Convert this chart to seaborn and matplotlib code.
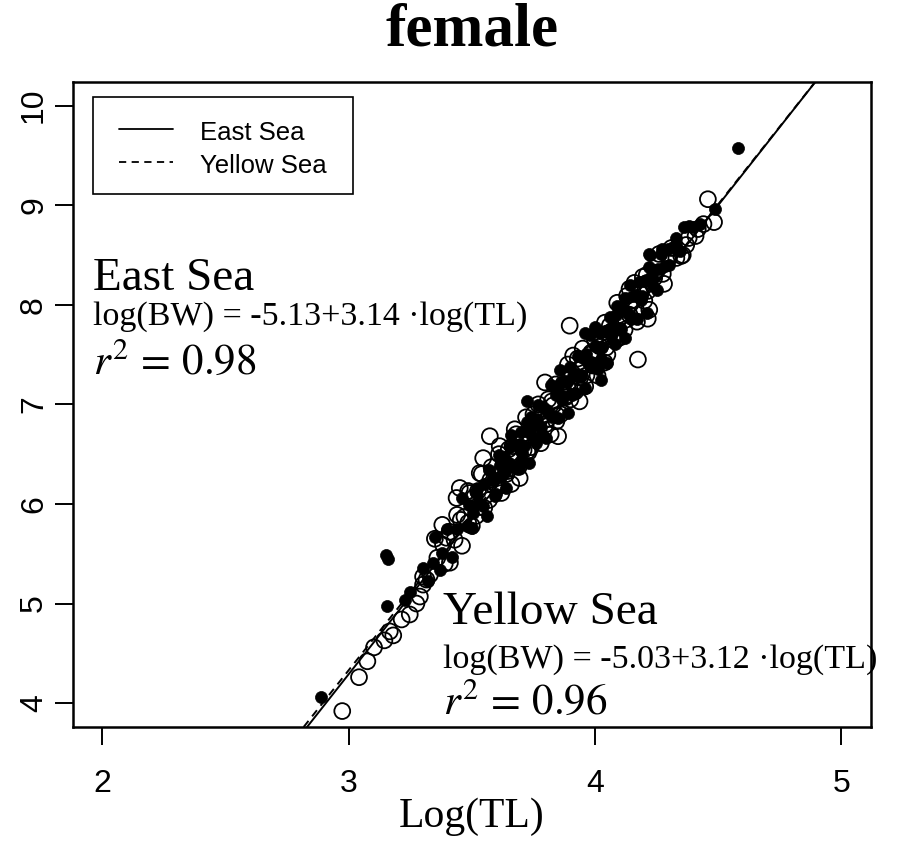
import matplotlib
matplotlib.use("Agg")
import matplotlib.pyplot as plt
from matplotlib.patches import Rectangle
import seaborn as sns
import pandas as pd

# ---------------- data ----------------
east_x = [2.886, 3.150, 3.160, 3.154, 3.228, 3.248, 3.343, 3.370, 4.579, 4.485, 4.363, 4.381,
          4.329, 4.296, 4.269, 4.224, 3.958, 4.025, 3.722, 3.857, 3.701, 4.120, 4.221, 3.998,
          3.30, 3.32, 3.35, 3.38, 3.40, 3.42, 3.44, 3.46, 3.48, 3.49, 3.50, 3.52, 3.53, 3.55,
          3.56, 3.57, 3.58, 3.60, 3.61, 3.62, 3.63, 3.64, 3.65, 3.66, 3.67, 3.68, 3.69, 3.70,
          3.71, 3.72, 3.73, 3.74, 3.75, 3.76, 3.77, 3.78, 3.79, 3.80, 3.81, 3.82, 3.83, 3.84,
          3.85, 3.86, 3.87, 3.88, 3.89, 3.90, 3.91, 3.92, 3.93, 3.94, 3.95, 3.96, 3.97, 3.98,
          3.99, 4.00, 4.01, 4.02, 4.03, 4.04, 4.05, 4.06, 4.07, 4.08, 4.09, 4.10, 4.11, 4.12,
          4.13, 4.14, 4.15, 4.16, 4.17, 4.18, 4.19, 4.20, 4.21, 4.22, 4.23, 4.25, 4.27, 4.30,
          4.33,
          3.505, 3.515, 3.545, 3.585, 3.595, 3.615, 3.635, 3.655, 3.675, 3.695, 3.705, 3.725,
          3.745, 3.765, 3.785, 3.805, 3.825, 3.845, 3.865, 3.885, 3.905, 3.925, 3.945, 3.965,
          3.985, 4.005, 4.025, 4.045, 4.065, 4.085, 4.105, 4.125, 4.145, 4.165, 4.185, 4.205,
          4.235, 4.255, 4.285, 4.315, 4.345, 4.395, 4.425]
east_y = [4.06, 5.49, 5.45, 4.98, 5.04, 5.12, 5.41, 5.34, 9.57, 8.96, 8.78, 8.79,
          8.60, 8.56, 8.51, 8.50, 7.72, 7.24, 7.03, 7.34, 6.41, 8.07, 8.51, 7.78,
          5.36, 5.23, 5.67, 5.51, 5.75, 5.47, 5.75, 6.06, 5.78, 5.99, 5.76, 6.15, 6.01, 6.20,
          5.88, 6.34, 6.24, 6.10, 6.49, 6.27, 6.47, 6.16, 6.41, 6.69, 6.37, 6.59, 6.36, 6.72,
          6.58, 6.73, 6.41, 6.87, 6.78, 6.61, 6.99, 6.77, 6.97, 6.66, 6.91, 7.19, 6.88, 7.09,
          6.86, 7.22, 7.08, 7.23, 6.91, 7.38, 7.28, 7.11, 7.49, 7.27, 7.47, 7.16, 7.42, 7.70,
          7.38, 7.59, 7.36, 7.72, 7.58, 7.74, 7.42, 7.88, 7.78, 7.61, 7.99, 7.77, 7.98, 7.67,
          7.92, 8.20, 7.88, 8.09, 7.86, 8.23, 8.09, 8.24, 7.92, 8.38, 8.28, 8.15, 8.56, 8.40,
          8.67,
          5.91, 6.11, 5.98, 6.24, 6.08, 6.39, 6.32, 6.57, 6.37, 6.60, 6.51, 6.82,
          6.68, 6.85, 6.70, 6.94, 6.87, 7.15, 7.04, 7.22, 7.09, 7.30, 7.28, 7.51,
          7.43, 7.59, 7.46, 7.74, 7.69, 7.90, 7.76, 7.94, 7.86, 8.10, 8.05, 8.25,
          8.19, 8.36, 8.39, 8.58, 8.54, 8.78, 8.81]

yellow_x = [2.974, 3.042, 3.076, 3.103, 3.145, 3.167, 3.181, 3.215, 3.248, 3.275, 3.289, 3.316,
            3.302, 3.302, 3.411, 3.397, 3.383, 3.518, 3.451, 3.438, 3.485, 3.532, 3.546, 3.573,
            3.613, 3.694, 3.674, 3.797, 3.843, 3.850, 3.937, 3.911, 3.897, 4.214, 4.174, 4.039,
            4.194, 4.140, 4.356, 4.458, 4.483, 4.417, 4.408, 4.370, 4.350,
            3.33, 3.35, 3.36, 3.38, 3.39, 3.41, 3.43, 3.44, 3.46, 3.47, 3.49, 3.50, 3.51, 3.53,
            3.54, 3.55, 3.57, 3.58, 3.59, 3.61, 3.62, 3.63, 3.64, 3.65, 3.66, 3.67, 3.68, 3.69,
            3.70, 3.71, 3.72, 3.73, 3.74, 3.75, 3.76, 3.77, 3.78, 3.79, 3.80, 3.81, 3.82, 3.83,
            3.84, 3.86, 3.87, 3.88, 3.89, 3.90, 3.92, 3.93, 3.94, 3.95, 3.96, 3.98, 3.99, 4.00,
            4.01, 4.02, 4.04, 4.05, 4.06, 4.08, 4.09, 4.10, 4.12, 4.13, 4.14, 4.16, 4.17, 4.18,
            4.20, 4.21, 4.22, 4.24, 4.26, 4.28, 4.31, 4.33,
            3.455, 3.485, 3.525, 3.555, 3.575, 3.605, 3.625, 3.645, 3.665, 3.685, 3.705, 3.725,
            3.745, 3.765, 3.785, 3.805, 3.825, 3.845, 3.865, 3.885, 3.905, 3.925, 3.945, 3.965,
            3.985, 4.005, 4.025, 4.045, 4.065, 4.085, 4.105, 4.125, 4.145, 4.165, 4.185, 4.215,
            4.245, 4.275, 4.300, 4.380, 4.440]
yellow_y = [3.92, 4.26, 4.42, 4.56, 4.63, 4.72, 4.68, 4.84, 4.89, 5.00, 5.07, 5.24,
            5.19, 5.27, 5.41, 5.66, 5.59, 5.88, 6.16, 6.06, 6.13, 6.31, 6.46, 6.68,
            6.58, 6.26, 6.75, 7.22, 6.83, 6.68, 7.03, 7.49, 7.79, 7.86, 7.45, 7.42,
            8.28, 8.16, 8.50, 9.06, 8.83, 8.76, 8.69, 8.60, 8.49,
            5.29, 5.65, 5.46, 5.79, 5.40, 5.72, 5.64, 5.89, 5.58, 5.87, 6.11, 5.78, 6.07, 5.97,
            6.30, 5.96, 6.04, 6.37, 6.18, 6.50, 6.11, 6.41, 6.30, 6.55, 6.20, 6.49, 6.70, 6.37,
            6.66, 6.54, 6.87, 6.52, 6.57, 6.90, 6.71, 7.00, 6.61, 6.90, 6.80, 7.05, 6.70, 6.99,
            7.20, 6.90, 7.19, 7.07, 7.40, 7.05, 7.13, 7.46, 7.27, 7.56, 7.18, 7.50, 7.39, 7.64,
            7.29, 7.58, 7.82, 7.50, 7.79, 7.69, 8.02, 7.67, 7.75, 8.09, 7.90, 8.22, 7.83, 8.12,
            8.04, 8.30, 7.95, 8.27, 8.51, 8.21, 8.57, 8.47,
            5.84, 5.81, 6.13, 6.08, 6.24, 6.17, 6.35, 6.33, 6.58, 6.50, 6.64, 6.53,
            6.73, 6.70, 6.93, 6.85, 7.03, 6.89, 7.10, 7.09, 7.32, 7.19, 7.37, 7.29,
            7.52, 7.49, 7.68, 7.57, 7.73, 7.65, 7.88, 7.85, 8.04, 7.96, 8.12, 8.14,
            8.32, 8.31, 8.47, 8.67, 8.81]

regions = ["East Sea", "Yellow Sea"]
intercepts = [-5.13, -5.03]
slopes = [3.14, 3.12]
r2_values = [0.98, 0.96]

x_ticks = [2, 3, 4, 5]
y_ticks = [4, 5, 6, 7, 8, 9, 10]

# ---------------- figure ----------------
sns.set_style("white")
plt.rcParams["font.family"] = ["Liberation Sans", "DejaVu Sans"]
plt.rcParams["mathtext.fontset"] = "stix"
plt.rcParams["text.color"] = "black"
plt.rcParams["axes.labelcolor"] = "black"
plt.rcParams["xtick.color"] = "black"
plt.rcParams["ytick.color"] = "black"

W, H = 897, 857
fig = plt.figure(figsize=(W / 100, H / 100), dpi=100)
left, right, top, bottom = 72.7, 871.0, 81.7, 727.0
ax = fig.add_axes([left / W, 1 - bottom / H, (right - left) / W, (bottom - top) / H])

df_y = pd.DataFrame({"TL": yellow_x, "BW": yellow_y})
df_e = pd.DataFrame({"TL": east_x, "BW": east_y})

sns.scatterplot(data=df_y, x="TL", y="BW", ax=ax, marker="o", s=130,
                facecolors="none", edgecolor="black", linewidth=1.3, zorder=3)
sns.scatterplot(data=df_e, x="TL", y="BW", ax=ax, marker="o", s=75,
                color="black", edgecolor="black", linewidth=0.5, zorder=4)

ax.axline((0, intercepts[0]), slope=slopes[0], color="black", lw=1.4, ls="-", zorder=5)
ax.axline((0, intercepts[1]), slope=slopes[1], color="black", lw=1.4, ls=(0, (4, 3)), zorder=5)

ax.set_xlim(1.88, 5.12)
ax.set_ylim(3.76, 10.24)
ax.set_xticks(x_ticks)
ax.set_yticks(y_ticks)
ax.set_xticklabels([str(t) for t in x_ticks])
ax.set_yticklabels([str(t) for t in y_ticks], rotation=90, va="center")
ax.tick_params(axis="both", direction="out", length=13, width=1.4, labelsize=23,
               color="black", labelcolor="black", bottom=True, left=True)
ax.tick_params(axis="x", pad=17)
ax.tick_params(axis="y", pad=4)
for sp in ax.spines.values():
    sp.set_visible(True)
    sp.set_color("black")
    sp.set_linewidth(1.8)

ax.set_xlabel("Log(TL)", fontsize=30, family="Liberation Serif", va="top", color="black")
ax.xaxis.set_label_coords(0.5, (bottom - 798) / (bottom - top))
ax.set_ylabel("")
fig.text(0.5 * (left + right) / W, 1 - 31 / H, "female", ha="center", va="center",
         fontsize=44, fontweight="bold", family="Liberation Serif", color="black")

# annotations
serif = "Liberation Serif"
ax.text(1.964, 8.15, regions[0], fontsize=34, family=serif, va="baseline", color="black")
ax.text(1.964, 7.80, f"log(BW) = {intercepts[0]:.2f}+{slopes[0]:.2f} \u00b7log(TL)",
        fontsize=24.5, family=serif, va="baseline", color="black")
ax.text(1.964, 7.31, rf"$r^2\,=\,{r2_values[0]:.2f}$", fontsize=31, va="baseline",
        color="black")

ax.text(3.382, 4.79, regions[1], fontsize=34, family=serif, va="baseline", color="black")
ax.text(3.382, 4.35, f"log(BW) = {intercepts[1]:.2f}+{slopes[1]:.2f} \u00b7log(TL)",
        fontsize=24.5, family=serif, va="baseline", color="black")
ax.text(3.382, 3.89, rf"$r^2\,=\,{r2_values[1]:.2f}$", fontsize=31, va="baseline",
        color="black")

# legend box (R style)
tr = ax.transAxes
def ax_x(px):
    return (px - left) / (right - left)
def ax_y(py):
    return (bottom - py) / (bottom - top)
ax.add_patch(Rectangle((ax_x(93.3), ax_y(194.3)), ax_x(353.3) - ax_x(93.3),
                       ax_y(97.3) - ax_y(194.3), transform=tr, fill=False,
                       edgecolor="black", lw=1.2, zorder=6))
ax.plot([ax_x(119), ax_x(172.7)], [ax_y(129.3)] * 2, transform=tr, color="black",
        lw=1.3, ls="-", zorder=6)
ax.plot([ax_x(119), ax_x(172.7)], [ax_y(161.7)] * 2, transform=tr, color="black",
        lw=1.3, ls=(0, (4, 3)), zorder=6)
ax.text(ax_x(200), ax_y(133), regions[0], transform=tr, fontsize=18.5, va="center",
        color="black")
ax.text(ax_x(200), ax_y(166), regions[1], transform=tr, fontsize=18.5, va="center",
        color="black")

fig.savefig("out.png", dpi=100, facecolor="white")
